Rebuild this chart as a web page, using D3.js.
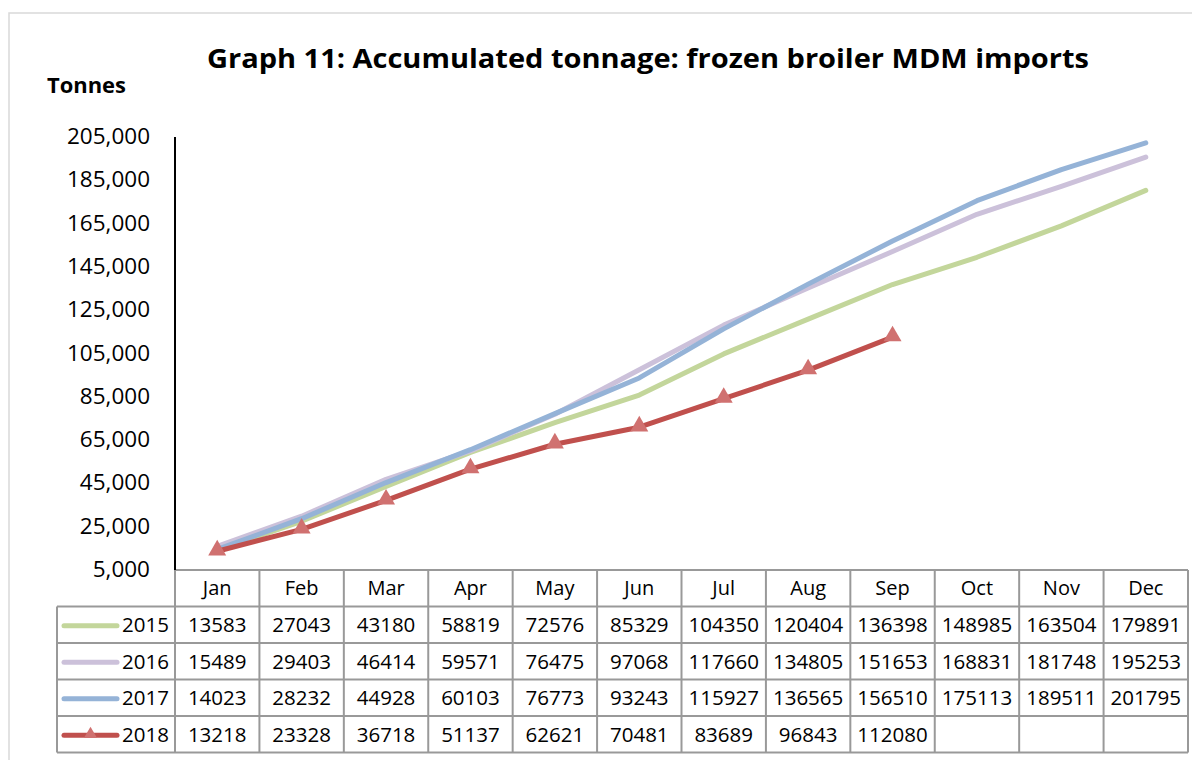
<!DOCTYPE html>
<html>
<head>
<meta charset="utf-8">
<script src="https://d3js.org/d3.v7.min.js"></script>
<style>
  body { margin: 0; background: #fff; }
  text { font-family: "Open Sans", "Noto Sans", sans-serif; }
</style>
</head>
<body>
<svg width="1192" height="760"></svg>
<script>
const months = ["Jan","Feb","Mar","Apr","May","Jun","Jul","Aug","Sep","Oct","Nov","Dec"];
const years = ["2015","2016","2017","2018"];
const v2015 = [13583,27043,43180,58819,72576,85329,104350,120404,136398,148985,163504,179891];
const v2016 = [15489,29403,46414,59571,76475,97068,117660,134805,151653,168831,181748,195253];
const v2017 = [14023,28232,44928,60103,76773,93243,115927,136565,156510,175113,189511,201795];
const v2018 = [13218,23328,36718,51137,62621,70481,83689,96843,112080];
const colors = ["#c3d69b","#ccc1da","#95b3d7","#c0504d"];
const yTicks = [5000,25000,45000,65000,85000,105000,125000,145000,165000,185000,205000];

const series = years.map((y, i) => ({ year: y, values: [v2015, v2016, v2017, v2018][i], color: colors[i] }));

const svg = d3.select("svg");

// outer chart border
svg.append("rect")
    .attr("x", 9).attr("y", 13).attr("width", 1200).attr("height", 800)
    .attr("fill", "none").attr("stroke", "#d9d9d9").attr("stroke-width", 1.5);

const plotLeft = 175, plotRight = 1188, plotTop = 136, plotBottom = 569;

const x = d3.scaleBand().domain(months).range([plotLeft, plotRight]);
const y = d3.scaleLinear().domain([5000, 205000]).range([plotBottom, plotTop]);

// title
svg.append("text")
    .attr("x", 648).attr("y", 68)
    .attr("text-anchor", "middle")
    .attr("font-size", 27).attr("font-weight", "bold")
    .attr("textLength", 882).attr("lengthAdjust", "spacingAndGlyphs")
    .text("Graph 11: Accumulated tonnage: frozen broiler MDM imports");

svg.append("text")
    .attr("x", 47).attr("y", 93)
    .attr("font-size", 21).attr("font-weight", "bold")
    .attr("textLength", 79).attr("lengthAdjust", "spacingAndGlyphs")
    .text("Tonnes");

// y axis labels
svg.append("g").selectAll("text")
    .data(yTicks)
    .join("text")
    .attr("x", 150).attr("y", d => y(d) + 8)
    .attr("text-anchor", "end")
    .attr("font-size", 22.5)
    .text(d => d3.format(",")(d));

// table grid
const rowH = 36.5;
const tableTop = plotBottom + 1;
const grid = svg.append("g").attr("stroke", "#999").attr("stroke-width", 2).attr("fill", "none");

grid.append("line").attr("x1", plotLeft).attr("x2", plotRight).attr("y1", tableTop).attr("y2", tableTop);
for (let r = 1; r <= 5; r++) {
    grid.append("line")
        .attr("x1", 57).attr("x2", plotRight)
        .attr("y1", tableTop + r * rowH).attr("y2", tableTop + r * rowH);
}
grid.append("line").attr("x1", 57).attr("x2", 57).attr("y1", tableTop + rowH).attr("y2", tableTop + 5 * rowH);
months.forEach(m => {
    grid.append("line")
        .attr("x1", x(m)).attr("x2", x(m))
        .attr("y1", tableTop).attr("y2", tableTop + 5 * rowH);
});
grid.append("line").attr("x1", plotRight).attr("x2", plotRight).attr("y1", tableTop).attr("y2", tableTop + 5 * rowH);

// header
svg.append("g").selectAll("text")
    .data(months)
    .join("text")
    .attr("x", d => x(d) + x.bandwidth() / 2)
    .attr("y", tableTop + rowH / 2 + 7)
    .attr("text-anchor", "middle")
    .attr("font-size", 20)
    .text(d => d);

// rows
series.forEach((s, i) => {
    const cy = tableTop + rowH * (i + 1) + rowH / 2;
    const row = svg.append("g");
    row.append("line")
        .attr("x1", 64).attr("x2", 117).attr("y1", cy + 1).attr("y2", cy + 1)
        .attr("stroke", s.color).attr("stroke-width", 5).attr("stroke-linecap", "round");
    if (s.year === "2018") {
        row.append("path")
            .attr("d", d3.symbol(d3.symbolTriangle, 75)())
            .attr("transform", `translate(90.5,${cy})`)
            .attr("fill", "#d07170");
    }
    row.append("text")
        .attr("x", 169).attr("y", cy + 7.5)
        .attr("text-anchor", "end").attr("font-size", 20.5)
        .text(s.year);
    row.selectAll(".val")
        .data(s.values)
        .join("text")
        .attr("class", "val")
        .attr("x", (d, j) => x(months[j]) + x.bandwidth() / 2)
        .attr("y", cy + 7.5)
        .attr("text-anchor", "middle").attr("font-size", 20.5)
        .text(d => d);
});

// lines
const line = d3.line()
    .x((d, j) => x(months[j]) + x.bandwidth() / 2)
    .y(d => y(d));

series.forEach(s => {
    svg.append("path")
        .datum(s.values)
        .attr("d", line)
        .attr("fill", "none")
        .attr("stroke", s.color)
        .attr("stroke-width", 5)
        .attr("stroke-linecap", "round")
        .attr("stroke-linejoin", "round");
});

// markers for 2018
svg.append("g").selectAll("path")
    .data(v2018)
    .join("path")
    .attr("d", d3.symbol(d3.symbolTriangle, 140)())
    .attr("transform", (d, j) => `translate(${x(months[j]) + x.bandwidth() / 2},${y(d) - 1})`)
    .attr("fill", "#d07170");

// y axis line
svg.append("line")
    .attr("x1", plotLeft).attr("x2", plotLeft).attr("y1", plotTop + 1).attr("y2", plotBottom + 1)
    .attr("stroke", "#000").attr("stroke-width", 2);
</script>
</body>
</html>
